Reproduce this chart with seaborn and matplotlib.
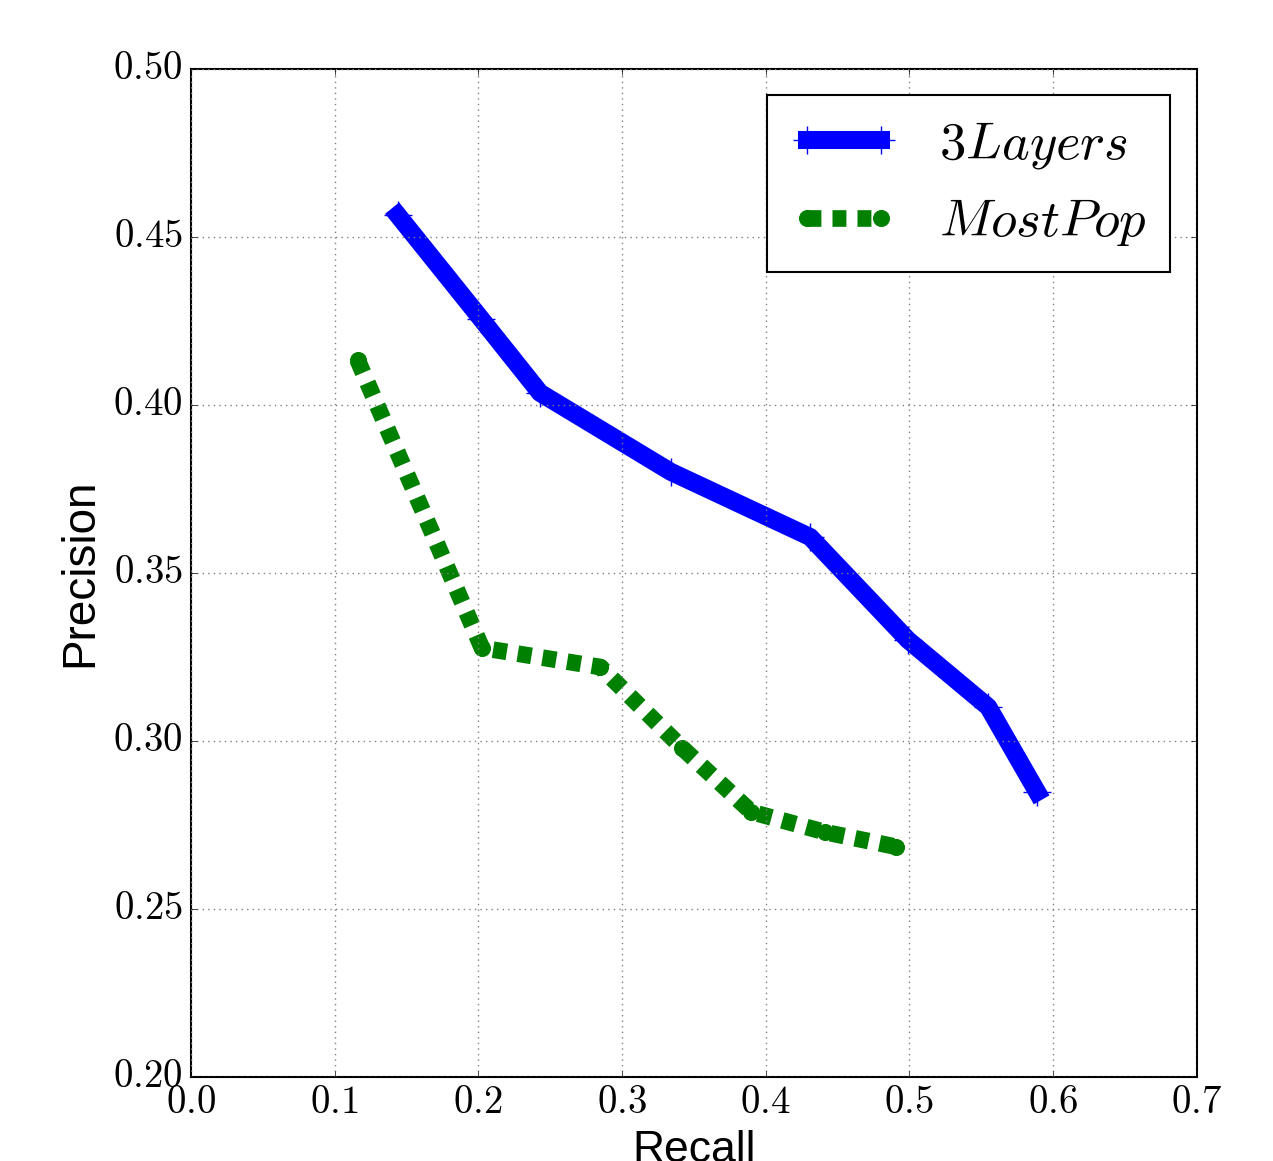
import matplotlib
matplotlib.use("Agg")
import matplotlib.pyplot as plt
import seaborn as sns
import pandas as pd

# Recall / precision points
layers_recall = [0.144, 0.202, 0.243, 0.334, 0.431, 0.499, 0.555, 0.589]
layers_precision = [0.4565, 0.4256, 0.4036, 0.3801, 0.3607, 0.3301, 0.3101, 0.2848]

pop_recall = [0.116, 0.2025, 0.285, 0.342, 0.390, 0.441, 0.491]
pop_precision = [0.4134, 0.3277, 0.3220, 0.2979, 0.2789, 0.2729, 0.2685]

x_ticks = [0.0, 0.1, 0.2, 0.3, 0.4, 0.5, 0.6, 0.7]
y_ticks = [0.20, 0.25, 0.30, 0.35, 0.40, 0.45, 0.50]

plt.style.use('classic')
plt.rcParams['mathtext.fontset'] = 'cm'
plt.rcParams['lines.scale_dashes'] = False
plt.rcParams['font.family'] = ['Liberation Sans', 'DejaVu Sans']

df_layers = pd.DataFrame({'Recall': layers_recall, 'Precision': layers_precision})
df_pop = pd.DataFrame({'Recall': pop_recall, 'Precision': pop_precision})

fig = plt.figure(figsize=(12.73, 11.61), dpi=100, facecolor='white')
ax = fig.add_axes([0.150, 0.0724, 0.790, 0.8682])

sns.lineplot(data=df_layers, x='Recall', y='Precision', ax=ax, color='blue',
             linewidth=13, marker='+', markersize=20, markeredgewidth=1,
             markeredgecolor='blue', label='$3Layers$')
sns.lineplot(data=df_pop, x='Recall', y='Precision', ax=ax, color='green',
             linewidth=12, linestyle=(0, (10, 8)), marker='o', markersize=11.5,
             markeredgecolor='green', label='$MostPop$')

ax.set_xlim(0, 0.7)
ax.set_ylim(0.2, 0.5)
ax.set_xticks(x_ticks)
ax.set_xticklabels(['$%.1f$' % v for v in x_ticks])
ax.set_yticks(y_ticks)
ax.set_yticklabels(['$%.2f$' % v for v in y_ticks])
ax.tick_params(labelsize=28, direction='in', top=True, right=True, pad=6)
ax.grid(True, color='gray', linestyle=':', linewidth=1)
for s in ax.spines.values():
    s.set_linewidth(1.5)

ax.set_xlabel('Recall', fontsize=32, labelpad=6)
ax.set_ylabel('Precision', fontsize=33, labelpad=8)

leg = ax.legend(loc='upper right', fontsize=38, numpoints=2, fancybox=False,
                framealpha=1, edgecolor='black', borderpad=0.45)
leg.get_frame().set_linewidth(1.5)

fig.savefig('out.png', dpi=100, facecolor='white')
